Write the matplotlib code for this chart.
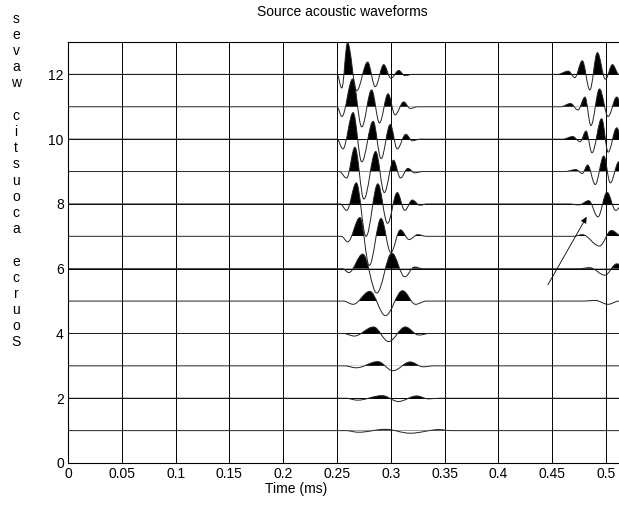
import matplotlib
matplotlib.use("Agg")
import matplotlib.pyplot as plt
from matplotlib.path import Path
from matplotlib.patches import PathPatch, Rectangle

plt.rcParams['font.family'] = ['Liberation Sans', 'DejaVu Sans']
plt.rcParams['font.size'] = 10

# =========================================================
# Data: extrema (time in ms, amplitude in trace units)
# one list per trace, trace 1 first
# =========================================================
levels = list(range(1, 13))

early_t = [
    [0.258, 0.270, 0.295, 0.318, 0.345, 0.356],
    [0.258, 0.269, 0.292, 0.307, 0.324, 0.335, 0.345],
    [0.257, 0.268, 0.288, 0.302, 0.318, 0.330, 0.340],
    [0.256, 0.266, 0.284, 0.298, 0.3135, 0.326, 0.336],
    [0.256, 0.265, 0.2805, 0.295, 0.311, 0.323, 0.333],
    [0.255, 0.261, 0.274, 0.287, 0.301, 0.313, 0.322, 0.330],
    [0.254, 0.260, 0.2714, 0.280, 0.291, 0.300, 0.309, 0.317, 0.325, 0.333],
    [0.253, 0.259, 0.268, 0.277, 0.288, 0.297, 0.306, 0.313, 0.320, 0.327, 0.334],
    [0.252, 0.259, 0.2667, 0.275, 0.286, 0.294, 0.3025, 0.309, 0.316, 0.322, 0.330],
    [0.250, 0.2555, 0.265, 0.273, 0.2836, 0.291, 0.2995, 0.306, 0.314, 0.320, 0.327],
    [0.250, 0.2545, 0.2646, 0.273, 0.2822, 0.2895, 0.2975, 0.304, 0.312, 0.318, 0.325],
    [0.250, 0.2545, 0.2598, 0.2683, 0.2785, 0.2855, 0.2935, 0.300, 0.3075, 0.313, 0.320],
]
early_a = [
    [0, -0.05, 0.04, -0.08, 0.03, 0],
    [0, -0.06, 0.08, -0.10, 0.07, -0.02, 0],
    [0, -0.06, 0.13, -0.15, 0.12, -0.03, 0],
    [0, -0.08, 0.20, -0.25, 0.20, -0.05, 0],
    [0, -0.10, 0.30, -0.45, 0.32, -0.10, 0],
    [0, -0.12, 0.45, -0.75, 0.48, -0.25, 0.05, 0],
    [0, -0.17, 0.58, -0.90, 0.55, -0.50, 0.20, -0.10, 0.05, 0],
    [0, -0.20, 0.65, -1.00, 0.62, -0.60, 0.35, -0.20, 0.12, -0.04, 0],
    [0, -0.20, 0.75, -0.85, 0.62, -0.65, 0.35, -0.20, 0.10, -0.04, 0],
    [0, -0.30, 0.82, -0.70, 0.55, -0.60, 0.45, -0.30, 0.15, -0.05, 0],
    [0, -0.30, 0.86, -0.62, 0.52, -0.50, 0.40, -0.25, 0.15, -0.05, 0],
    [0, -0.42, 0.98, -0.50, 0.38, -0.38, 0.30, -0.12, 0.12, -0.04, 0],
]

late_t = [
    [], [], [], [],
    [0.480, 0.490, 0.502, 0.512],
    [0.475, 0.485, 0.499, 0.510, 0.520],
    [0.470, 0.478, 0.494, 0.505, 0.515],
    [0.465, 0.475, 0.484, 0.4925, 0.501, 0.509, 0.516],
    [0.462, 0.472, 0.478, 0.483, 0.490, 0.498, 0.504, 0.512, 0.518],
    [0.460, 0.469, 0.476, 0.4815, 0.487, 0.496, 0.502, 0.510, 0.515],
    [0.458, 0.467, 0.474, 0.4805, 0.486, 0.494, 0.502, 0.510, 0.515],
    [0.455, 0.465, 0.471, 0.478, 0.485, 0.492, 0.4995, 0.506, 0.512],
]
late_a = [
    [], [], [], [],
    [0, 0.02, -0.10, 0],
    [0, 0.03, -0.20, 0.15, 0],
    [0, 0.05, -0.30, 0.18, 0],
    [0, -0.03, 0.10, -0.40, 0.36, -0.20, 0],
    [0, 0.06, -0.06, 0.20, -0.40, 0.48, -0.35, 0.30, 0],
    [0, 0.08, -0.08, 0.25, -0.42, 0.63, -0.40, 0.35, 0],
    [0, 0.10, -0.10, 0.30, -0.58, 0.55, -0.30, 0.30, 0],
    [0, 0.10, -0.10, 0.42, -0.48, 0.67, -0.15, 0.30, 0],
]

x_ticks = [0, 0.05, 0.1, 0.15, 0.2, 0.25, 0.3, 0.35, 0.4, 0.45, 0.5]
x_ticklabels = ["0", "0.05", "0.1", "0.15", "0.2", "0.25", "0.3", "0.35", "0.4", "0.45", "0.5"]
y_ticks = [0, 2, 4, 6, 8, 10, 12]

arrow_tail = (0.446, 5.5)
arrow_head = (0.482, 7.6)

title = "Source acoustic waveforms"
ylabel = "Source acoustic waves"
xlabel = "Time (ms)"

x_max = 0.5121
y_max = 13.0


# =========================================================
# Helpers
# =========================================================
def trace_path(level, groups, closed=False):
    # smooth cubic segments between extrema, flat baseline elsewhere
    verts = [(0, level)]
    codes = [Path.MOVETO]
    for ts, amps in groups:
        if not ts:
            continue
        verts.append((ts[0], level + amps[0]))
        codes.append(Path.LINETO)
        for i in range(len(ts) - 1):
            dt = ts[i + 1] - ts[i]
            verts += [(ts[i] + 0.36 * dt, level + amps[i]),
                      (ts[i + 1] - 0.36 * dt, level + amps[i + 1]),
                      (ts[i + 1], level + amps[i + 1])]
            codes += [Path.CURVE4] * 3
    verts.append((x_max + 0.02, level))
    codes.append(Path.LINETO)
    if closed:
        verts.append((0, level))
        codes.append(Path.CLOSEPOLY)
    return Path(verts, codes)


# =========================================================
# Plot
# =========================================================
fig = plt.figure(figsize=(6.19, 5.05), dpi=100)
ax = fig.add_axes([68 / 619, 42 / 505, 551 / 619, 421 / 505])

for k, lvl in enumerate(levels):
    groups = [(early_t[k], early_a[k]), (late_t[k], late_a[k])]
    fill = PathPatch(trace_path(lvl, groups, closed=True), facecolor="black",
                     edgecolor="none", zorder=3)
    ax.add_patch(fill)
    fill.set_clip_path(Rectangle((0, lvl), 1, 3, transform=ax.transData))
    line = PathPatch(trace_path(lvl, groups), facecolor="none",
                     edgecolor="#222222", lw=0.7, zorder=4)
    ax.add_patch(line)

ax.annotate("", xy=arrow_head, xytext=arrow_tail,
            arrowprops=dict(arrowstyle="-|>", lw=0.6, color="black",
                            mutation_scale=9, shrinkA=0, shrinkB=0), zorder=5)

ax.set_xlim(0, x_max)
ax.set_ylim(0, y_max)
ax.set_xticks(x_ticks)
ax.set_xticklabels(x_ticklabels)
ax.set_yticks(y_ticks)
ax.grid(True, color="black", lw=0.7, ls="-")
ax.set_axisbelow(True)
ax.tick_params(direction="in", length=4, width=0.7, top=True, pad=3)
ax.spines["right"].set_visible(False)
for s in ["left", "bottom", "top"]:
    ax.spines[s].set_linewidth(0.8)

ax.set_xlabel(xlabel, labelpad=0)
ax.xaxis.set_label_coords((296 - 68) / 551, -0.045)
fig.text(342 / 619, 1 - 12 / 505, title, ha="center", va="center")
fig.text(16 / 619, 1 - 180.5 / 505, "\n".join(ch if ch != " " else " " for ch in ylabel[::-1]),
         ha="center", va="center", linespacing=1.2)

fig.savefig("out.png", dpi=100)
